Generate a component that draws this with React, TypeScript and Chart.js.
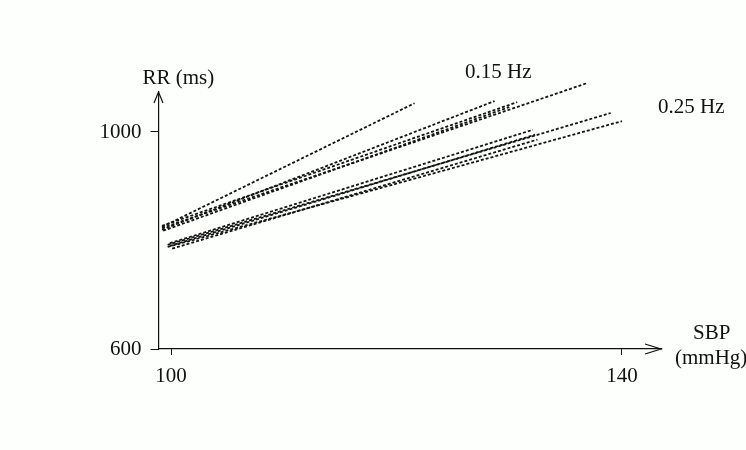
import React, { useEffect, useRef } from 'react';
import { Chart, registerables } from 'chart.js';

Chart.register(...registerables);

// Axis ticks
const xTickValues = [100, 140];
const yTickValues = [600, 1000];

// 0.15 Hz regression lines (SBP mmHg -> RR ms), start and end points
const hz015StartSBP = [99.2, 99.2, 99.2, 99.2, 99.3];
const hz015StartRR = [825, 820, 823, 827, 818];
const hz015EndSBP = [121.6, 128.7, 136.9, 130.7, 130.0];
const hz015EndRR = [1053, 1057, 1090, 1055, 1046];

// 0.25 Hz regression lines
const hz025StartSBP = [99.7, 99.7, 99.9, 99.9, 100.1];
const hz025StartRR = [792, 788, 795, 790, 785];
const hz025EndSBP = [139.0, 140.0, 132.1, 132.3, 132.5];
const hz025EndRR = [1035, 1020, 1004, 995, 986];

const FONT = '"Liberation Serif", "Times New Roman", serif';

function buildDatasets() {
  const ds: any[] = [];
  const style = {
    showLine: true,
    borderColor: '#141414',
    borderWidth: 1.8,
    borderDash: [3, 2],
    pointRadius: 0,
    fill: false,
    clip: false,
  };
  hz015StartSBP.forEach((_, i) => {
    ds.push({
      label: '0.15 Hz ' + (i + 1),
      data: [
        { x: hz015StartSBP[i], y: hz015StartRR[i] },
        { x: hz015EndSBP[i], y: hz015EndRR[i] },
      ],
      ...style,
    });
  });
  hz025StartSBP.forEach((_, i) => {
    ds.push({
      label: '0.25 Hz ' + (i + 1),
      data: [
        { x: hz025StartSBP[i], y: hz025StartRR[i] },
        { x: hz025EndSBP[i], y: hz025EndRR[i] },
      ],
      ...style,
    });
  });
  return ds;
}

const decorPlugin = {
  id: 'decor',
  beforeDraw(chart: any) {
    const ctx = chart.ctx;
    ctx.save();
    ctx.fillStyle = '#fdfffd';
    ctx.fillRect(0, 0, chart.width, chart.height);
    ctx.restore();
  },
  afterDraw(chart: any) {
    const ctx = chart.ctx;
    const a = chart.chartArea;
    ctx.save();
    ctx.strokeStyle = '#111';
    ctx.lineWidth = 1.2;
    // y arrow
    ctx.beginPath();
    ctx.moveTo(a.left - 4.5, a.top + 11);
    ctx.lineTo(a.left, a.top);
    ctx.lineTo(a.left + 4.5, a.top + 11);
    ctx.stroke();
    // x arrow
    ctx.beginPath();
    ctx.moveTo(a.right - 16, a.bottom - 5);
    ctx.lineTo(a.right, a.bottom);
    ctx.lineTo(a.right - 16, a.bottom + 5);
    ctx.stroke();

    ctx.fillStyle = '#111';
    ctx.textBaseline = 'middle';
    ctx.textAlign = 'left';
    ctx.font = '21px ' + FONT;
    ctx.fillText('RR (ms)', a.left - 16, a.top - 14);
    ctx.fillText('0.15 Hz', 465, 72);
    ctx.fillText('0.25 Hz', 658, 107);
    ctx.fillText('SBP', 693, a.bottom - 16);
    ctx.fillText('(mmHg)', 675, a.bottom + 9);
    ctx.restore();
  },
};

export default function App() {
  const ref = useRef<HTMLCanvasElement | null>(null);
  useEffect(() => {
    if (!ref.current) return;
    const chart = new Chart(ref.current, {
      type: 'scatter',
      data: { datasets: buildDatasets() },
      options: {
        animation: false,
        responsive: false,
        devicePixelRatio: 1,
        layout: { padding: { top: 92, right: 85, left: 0, bottom: 0 } },
        plugins: { legend: { display: false }, tooltip: { enabled: false } },
        scales: {
          x: {
            type: 'linear',
            min: 98.89,
            max: 143.46,
            afterFit: (s: any) => {
              s.height = 101;
            },
            afterBuildTicks: (s: any) => {
              s.ticks = xTickValues.map((v) => ({ value: v }));
            },
            grid: {
              display: true,
              drawOnChartArea: false,
              drawTicks: true,
              tickLength: 6,
              color: '#111',
              lineWidth: 1,
            },
            border: { display: true, color: '#111', width: 1.2 },
            ticks: {
              padding: 9,
              color: '#111',
              font: { family: FONT, size: 21 },
              maxRotation: 0,
              autoSkip: false,
              callback: (v: any) => String(v),
            },
          },
          y: {
            type: 'linear',
            min: 600,
            max: 1073.7,
            afterFit: (s: any) => {
              s.width = 158.5;
            },
            afterBuildTicks: (s: any) => {
              s.ticks = yTickValues.map((v) => ({ value: v }));
            },
            grid: {
              display: true,
              drawOnChartArea: false,
              drawTicks: true,
              tickLength: 8,
              color: '#111',
              lineWidth: 1,
            },
            border: { display: true, color: '#111', width: 1.2 },
            ticks: {
              padding: 9,
              color: '#111',
              font: { family: FONT, size: 21 },
              autoSkip: false,
              callback: (v: any) => String(v),
            },
          },
        },
      },
      plugins: [decorPlugin],
    });
    return () => chart.destroy();
  }, []);
  return (
    <div style={{ position: 'fixed', left: 0, top: 0, width: 746, height: 450 }}>
      <canvas ref={ref} width={746} height={450} style={{ width: 746, height: 450 }} />
    </div>
  );
}
